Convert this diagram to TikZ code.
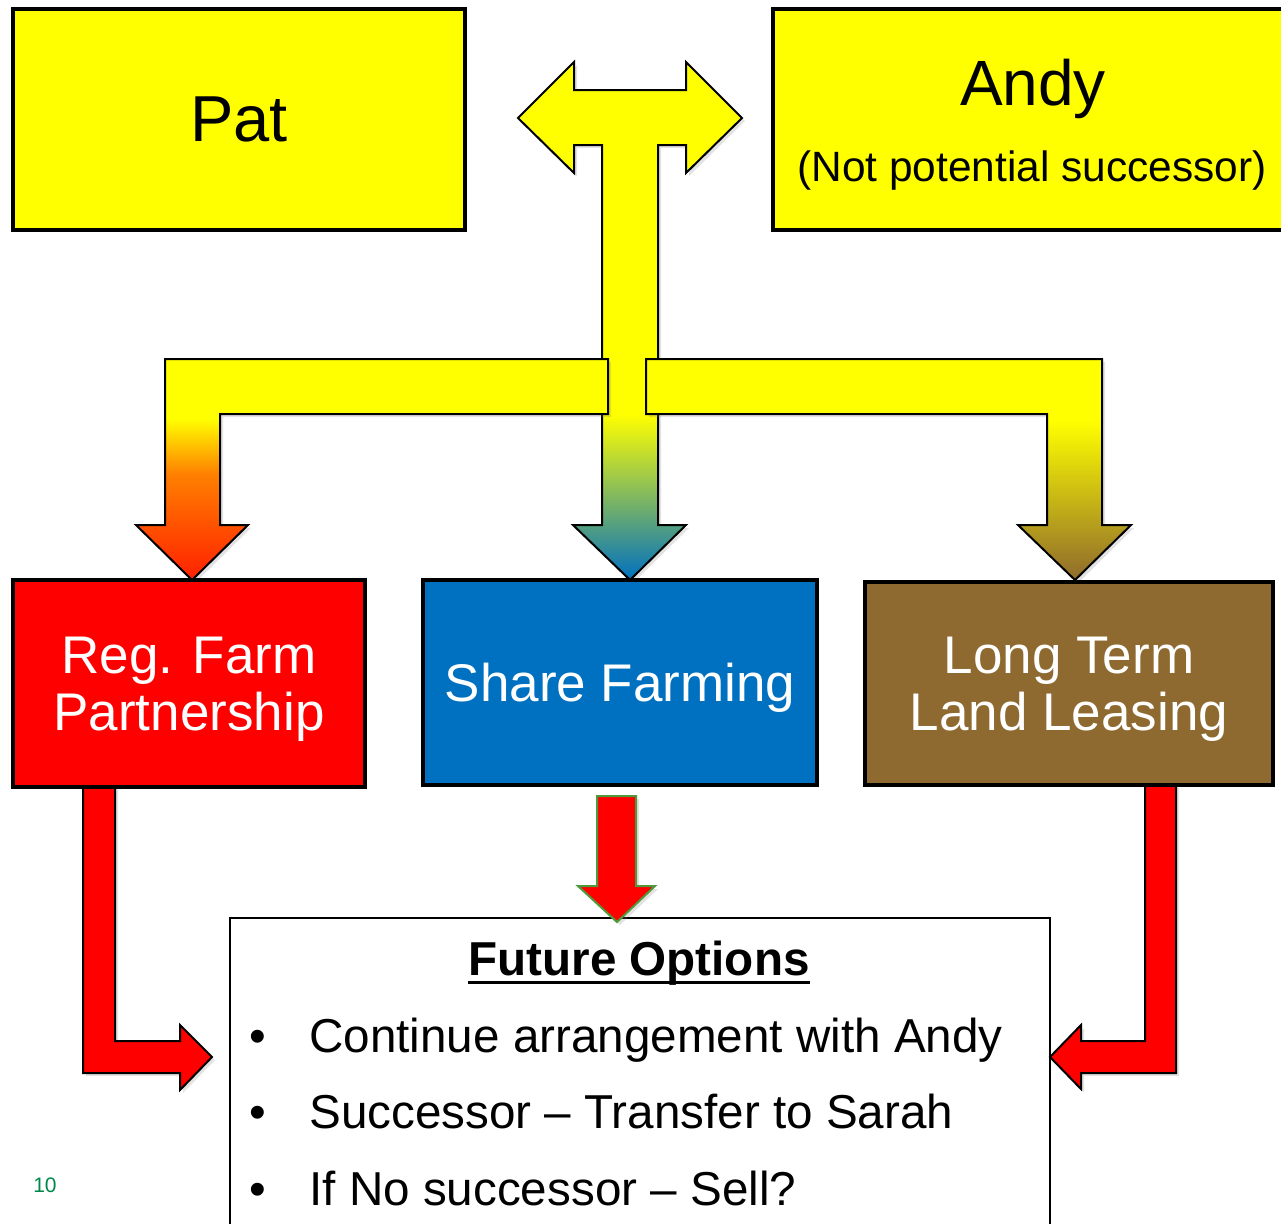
\documentclass[tikz,border=0pt]{standalone}
\usepackage{fontspec}
\setmainfont{Liberation Sans}
\usepackage{xcolor}
\usepackage{tikz}
\usetikzlibrary{shadows}
\definecolor{Lemon}{HTML}{FFFF00}
\definecolor{FarmRed}{HTML}{FF0000}
\definecolor{ShareBlue}{HTML}{0070C0}
\definecolor{LeaseBrown}{HTML}{8E6A31}
\definecolor{HotOrange}{HTML}{FF8000}
\definecolor{TipRed}{HTML}{FF2000}
\definecolor{TipBrown}{HTML}{8E6A2C}
\definecolor{LeafGreen}{HTML}{4E9A3A}
\definecolor{PageGreen}{HTML}{00884A}
\pgfdeclareverticalshading{toFarm}{100bp}{color(0bp)=(TipRed); color(25bp)=(TipRed); color(49bp)=(HotOrange); color(61.5bp)=(Lemon); color(100bp)=(Lemon)}
\pgfdeclareverticalshading{toShare}{100bp}{color(0bp)=(ShareBlue); color(25bp)=(ShareBlue); color(41bp)=(Lemon); color(100bp)=(Lemon)}
\pgfdeclareverticalshading{toLease}{100bp}{color(0bp)=(TipBrown); color(25bp)=(TipBrown); color(61bp)=(Lemon); color(100bp)=(Lemon)}
\tikzset{
  softshadow/.style={drop shadow={shadow xshift=1.5pt, shadow yshift=-1.5pt, opacity=0.22}},
  blockarrow/.style={draw=black, line width=1pt, softshadow},
  namebox/.style={draw=black, line width=2pt, fill=Lemon, inner sep=0pt},
  optbox/.style={draw=black, line width=2.2pt, text=white, align=center, inner sep=0pt, text depth=0pt, font=\fontsize{26.5}{28.5}\selectfont},
  bullettext/.style={inner sep=0pt, anchor=base west, font=\fontsize{23.8}{28}\selectfont},
}

\begin{document}
\begin{tikzpicture}[x=0.5pt, y=-0.5pt]
  \clip (0,0) rectangle (1281,1223);
  \fill[white] (0,0) rectangle (1281,1223);

  % yellow arrows from the top
  \shadedraw[blockarrow, shading=toShare] (518,118) -- (574,62) -- (574,90) -- (686,90) -- (686,62) -- (742,118) -- (686,173) -- (686,145) -- (658,145) -- (658,525) -- (686,525) -- (630,580) -- (573,525) -- (602,525) -- (602,145) -- (574,145) -- (574,173) -- cycle;
  \shadedraw[blockarrow, shading=toFarm] (165,359) -- (608,359) -- (608,414) -- (220,414) -- (220,525) -- (248,525) -- (192,580) -- (136,525) -- (165,525) -- cycle;
  \shadedraw[blockarrow, shading=toLease] (646,359) -- (1102,359) -- (1102,525) -- (1131,525) -- (1075,580) -- (1018,525) -- (1047,525) -- (1047,414) -- (646,414) -- cycle;

  \node[draw=black, line width=1pt, fill=white, minimum width=410pt, minimum height=200pt, anchor=north west] (future) at (229,917) {};
  \node[inner sep=0pt, anchor=base, font=\fontsize{23.8}{28}\selectfont\bfseries] (futuretitle) at (639,975) {Future Options};
  \draw[line width=1.4pt] ([yshift=-3.6pt]futuretitle.base west) -- ([yshift=-3.6pt]futuretitle.base east);
  \foreach \txt [count=\i from 0] in {Continue arrangement with Andy, Successor – Transfer to Sarah, If No successor – Sell?} {
    \node[bullettext] (dot\i) at (249,{1052+76.5*\i}) {•};
    \node[bullettext] (opt\i) at (309,{1052+76.5*\i}) {\txt};
  }

  % red arrows down to the options
  \filldraw[blockarrow, fill=FarmRed] (83,785) -- (115,785) -- (115,1041) -- (180,1041) -- (180,1025) -- (212,1057) -- (180,1090) -- (180,1073) -- (83,1073) -- cycle;
  \filldraw[blockarrow, fill=FarmRed] (1145,785) -- (1176,785) -- (1176,1073) -- (1081,1073) -- (1081,1089) -- (1050,1057) -- (1081,1025) -- (1081,1041) -- (1145,1041) -- cycle;
  \filldraw[blockarrow, draw=LeafGreen, fill=FarmRed] (597,796) -- (636,796) -- (636,886) -- (655,886) -- (617,922) -- (578,886) -- (597,886) -- cycle;

  \node[optbox, fill=FarmRed, minimum width=176pt, minimum height=103.5pt] (farm) at (189,683.5) {Reg. Farm\\Partnership};
  \node[optbox, fill=ShareBlue, minimum width=197pt, minimum height=102.5pt] (share) at (620,682.5) {Share Farming};
  \node[optbox, fill=LeaseBrown, minimum width=204pt, minimum height=101.5pt] (lease) at (1069,683.5) {Long Term\\Land Leasing};

  \node[namebox, minimum width=226pt, minimum height=110.5pt, font=\fontsize{32.5}{40}\selectfont] (pat) at (239,119.5) {Pat};
  \node[namebox, minimum width=261pt, minimum height=110.5pt] (andy) at (1034,119.5) {};
  \node[inner sep=0pt, anchor=base, font=\fontsize{32}{40}\selectfont] (andyname) at (1033,105) {Andy};
  \node[inner sep=0pt, anchor=base, font=\fontsize{21.2}{26}\selectfont] (andynote) at (1032,181) {(Not potential successor)};

  \node[text=PageGreen, font=\fontsize{10.5}{12}\selectfont] (pagenum) at (45,1185) {10};
\end{tikzpicture}
\end{document}
